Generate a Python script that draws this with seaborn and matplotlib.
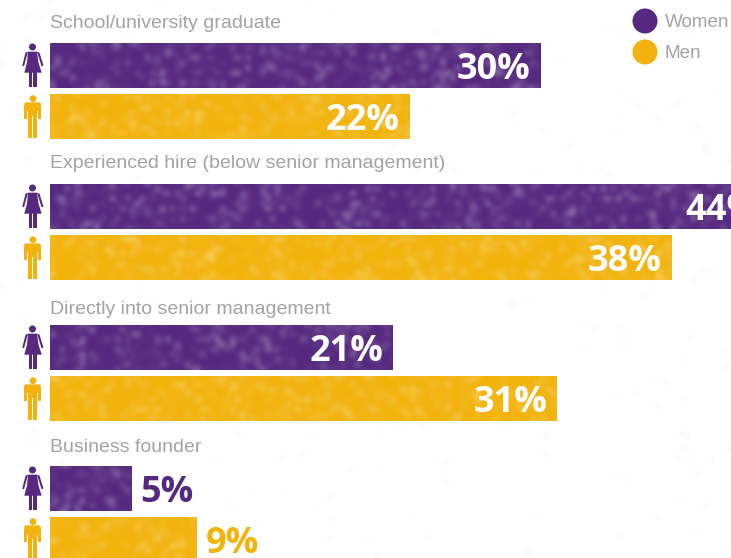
import numpy as np
import pandas as pd
import matplotlib
matplotlib.use("Agg")
import matplotlib.pyplot as plt
import seaborn as sns
from matplotlib.patches import Circle, Polygon, Rectangle, FancyBboxPatch, PathPatch
from matplotlib.path import Path

categories = ["School/university graduate", "Experienced hire (below senior management)",
              "Directly into senior management", "Business founder"]
women = [30, 44, 21, 5]
men = [22, 38, 31, 9]

PURPLE = "#55297f"
GOLD = "#f2b30c"
GREY = "#a3a3a3"
W, H = 731, 558

sns.set_theme(style="white")
plt.rcParams["font.family"] = ["Liberation Sans", "DejaVu Sans"]

df = pd.DataFrame({
    "category": categories * 2,
    "gender": ["Women"] * 4 + ["Men"] * 4,
    "pct": women + men,
})

fig = plt.figure(figsize=(W / 100, H / 100), dpi=100)
ax = fig.add_axes([0, 0, 1, 1])
sns.barplot(data=df, y="category", x="pct", hue="gender", order=categories,
            hue_order=["Women", "Men"], palette={"Women": PURPLE, "Men": GOLD},
            width=0.7234, gap=0.105, saturation=1, legend=False, linewidth=0, ax=ax)

# one unit = 16.37 px, first bar group centred on y=91 and groups 141 px apart
xlim = (-49.7 / 16.37, (W - 49.7) / 16.37)
ylim = ((H - 91) / 141, -91 / 141)
ax.set_xlim(xlim)
ax.set_ylim(ylim)
ax.axis("off")

# print texture, decoration only: faint specks on the paper, mottling on the bars
rng = np.random.default_rng(7)
paper = np.zeros((H // 3, W // 3, 4))
paper[..., :3] = 0.6
paper[..., 3] = (rng.random(paper.shape[:2]) > 0.994) * 0.1
ax.imshow(paper, extent=(*xlim, ylim[0], ylim[1]), aspect="auto",
          interpolation="bicubic", zorder=0)

noise = rng.random((H // 5, W // 5)) ** 6
tex = np.ones(noise.shape + (4,))
tex[..., 3] = noise * 0.38
bars = [p for c in ax.containers for p in c]
verts, codes = [], []
for b in bars:
    path = b.get_path().transformed(b.get_transform())
    verts.extend(path.vertices)
    codes.extend(path.codes)
clip = PathPatch(Path(verts, codes), transform=None, fc="none", ec="none")
ax.add_patch(clip)
im = ax.imshow(tex, extent=(*xlim, ylim[0], ylim[1]), aspect="auto",
               interpolation="bicubic", zorder=3)
im.set_clip_path(clip)
ax.set_xlim(xlim)
ax.set_ylim(ylim)

# value labels: inside the bar end, outside for short bars
for container, colour in zip(ax.containers, [PURPLE, GOLD]):
    for b in container:
        v = b.get_width()
        y = b.get_y() + b.get_height() / 2
        inside = v > 10
        ax.annotate(f"{v:.0f}%", (v, y), xytext=(-10 * 0.72 if inside else 9 * 0.72, -3.5),
                    textcoords="offset points", ha="right" if inside else "left",
                    va="center", fontsize=26, fontweight="bold",
                    family=["Open Sans", "DejaVu Sans"],
                    color="white" if inside else colour, zorder=5,
                    annotation_clip=False)

# overlay in pixel coordinates for headings, legend and icons
ov = fig.add_axes([0, 0, 1, 1], facecolor="none")
ov.set_xlim(0, W)
ov.set_ylim(H, 0)
ov.axis("off")

head_y = [24, 163, 309, 448]
for name, y in zip(categories, head_y):
    ov.text(50, y, name, color=GREY, fontsize=14, va="center", ha="left")

for y, label, colour in [(21, "Women", PURPLE), (52, "Men", GOLD)]:
    ov.add_patch(Circle((645, y), 12.5, color=colour, lw=0))
    ov.text(665, y + 1.5, label, color=GREY, fontsize=13.6, va="center", ha="left")


def woman(t, colour):
    ov.add_patch(Circle((32.5, t + 4.3), 3.5, color=colour, lw=0))
    ov.add_patch(Polygon([(28, t + 9), (37, t + 9), (38.5, t + 20), (41.7, t + 30), (24.3, t + 30), (27, t + 20)],
                         color=colour, lw=0))
    ov.add_patch(Polygon([(28, t + 9), (24, t + 23.5), (22.3, t + 23), (25.5, t + 10)], color=colour, lw=0))
    ov.add_patch(Polygon([(37, t + 9), (41.5, t + 23.5), (43.5, t + 23), (39.5, t + 10)], color=colour, lw=0))
    ov.add_patch(Rectangle((29, t + 29), 3.3, 15.5, color=colour, lw=0))
    ov.add_patch(Rectangle((33.3, t + 29), 3.3, 15.5, color=colour, lw=0))


def man(t, colour):
    ov.add_patch(Circle((33, t + 5), 3.4, color=colour, lw=0))
    ov.add_patch(FancyBboxPatch((26, t + 10.5), 13, 5, boxstyle="round,pad=1.8", color=colour, lw=0))
    ov.add_patch(Rectangle((24.3, t + 12), 3, 13, color=colour, lw=0))
    ov.add_patch(Rectangle((38.3, t + 12), 3, 13, color=colour, lw=0))
    ov.add_patch(Rectangle((28.3, t + 12), 9, 10, color=colour, lw=0))
    ov.add_patch(Rectangle((28.3, t + 21), 4, 23.5, color=colour, lw=0))
    ov.add_patch(Rectangle((33.3, t + 21), 4, 23.5, color=colour, lw=0))


for container, draw, colour in zip(ax.containers, [woman, man], [PURPLE, GOLD]):
    for b in container:
        top_px = ax.transData.transform((0, b.get_y()))[1]
        draw(H - top_px, colour)

fig.savefig("out.png", dpi=100)
